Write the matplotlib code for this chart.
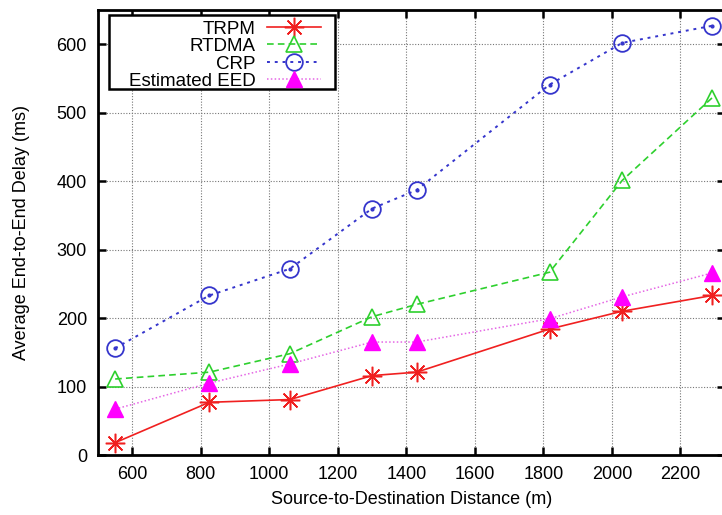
import numpy as np
import matplotlib
matplotlib.use("Agg")
import matplotlib.pyplot as plt
from matplotlib.patches import Rectangle

# ── DATA ─────────────────────────────────────────────────────────────────────
distance = [550, 825, 1060, 1300, 1430, 1818, 2030, 2293]
trpm = [18, 77, 81, 116, 121, 184, 210, 233]
rtdma = [111, 121, 148, 202, 220, 267, 401, 522]
crp = [156, 233, 272, 360, 387, 541, 602, 627]
est_eed = [67, 105, 133, 165, 165, 199, 231, 266]

x_ticks = [600, 800, 1000, 1200, 1400, 1600, 1800, 2000, 2200]
y_ticks = [0, 100, 200, 300, 400, 500, 600]

plt.rcParams["font.family"] = ["Liberation Sans", "DejaVu Sans"]

fig = plt.figure(figsize=(7.22, 5.15), dpi=100)
# axes box in pixels: left 98, right ~725 (cut off), top 10, bottom 455
ax = fig.add_axes([98 / 722, 1 - 455 / 515, 627 / 722, 445 / 515])

ax.plot(distance, trpm, color="#f02020", linestyle="-", linewidth=1.2,
        marker=(8, 2, 0), markersize=14, markeredgewidth=1.1, label="TRPM")
ax.plot(distance, rtdma, color="#2ed02e", linestyle=(0, (4, 2.5)), linewidth=1.2,
        marker="^", markersize=11, markerfacecolor="none", markeredgewidth=1.2,
        label="RTDMA")
ax.plot(distance, crp, color="#3535cc", linestyle=(0, (1.5, 2.5)), linewidth=1.4,
        marker="o", markersize=12, markerfacecolor="none", markeredgewidth=1.3,
        label="CRP")
# centre dot of the CRP markers
ax.plot(distance, crp, color="#3535cc", linestyle="none", marker="o", markersize=2)
ax.plot(distance, est_eed, color="#e566e5", linestyle=(0, (1, 1.5)), linewidth=1.1,
        marker="^", markersize=11, markerfacecolor="#ff00ff", markeredgecolor="#ff00ff",
        label="Estimated EED")

ax.set_xlim(500, 2330)
ax.set_ylim(0, 650)
ax.set_xticks(x_ticks)
ax.set_yticks(y_ticks)
ax.tick_params(direction="in", length=6, width=1.8, top=True, right=True,
               labelsize=13, pad=8)
ax.grid(True, color="#777777", linestyle=(0, (1, 1.5)), linewidth=0.8)
for s in ax.spines.values():
    s.set_linewidth(2)

ax.set_xlabel("Source-to-Destination Distance (m)", fontsize=13, labelpad=6)
ax.set_ylabel("Average End-to-End Delay (ms)", fontsize=13, labelpad=19)

# gnuplot-style key: right-aligned labels, samples on the right, own frame
ax.add_patch(Rectangle((0.0175, 0.8225), 0.3604, 0.1663, transform=ax.transAxes,
                       facecolor="white", edgecolor="black", linewidth=1.8,
                       zorder=4.9))
leg = ax.legend(loc="upper left", bbox_to_anchor=(0.043, 0.985), fontsize=13.5,
                markerfirst=False, handlelength=2.83, handletextpad=0.64,
                labelspacing=0.02, borderpad=0.2, borderaxespad=0,
                frameon=False)
leg.set_zorder(5)
for t in leg.get_texts():
    t.set_ha("right")

fig.savefig("out.png", dpi=100)
